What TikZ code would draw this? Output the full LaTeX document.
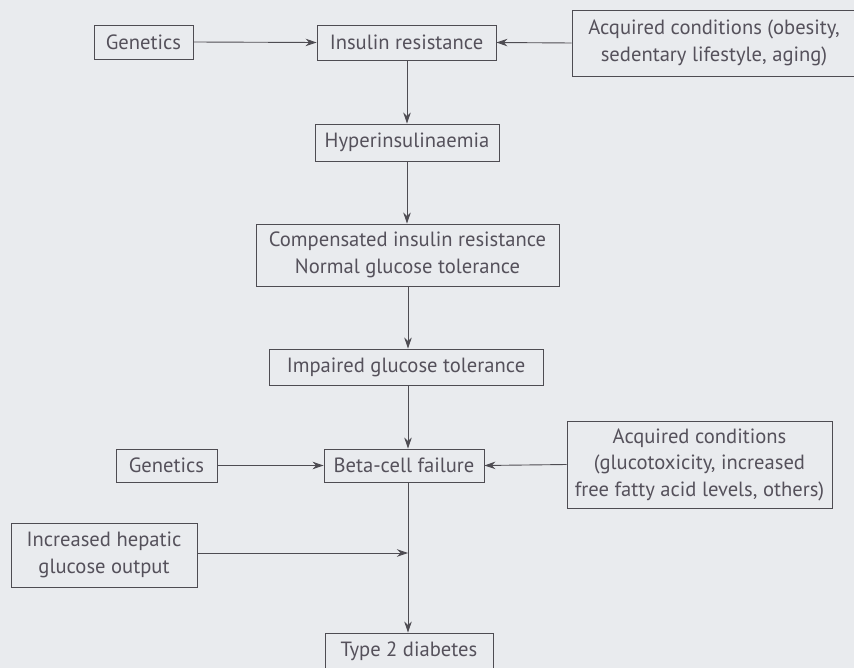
\documentclass[tikz,border=0pt]{standalone}
\usepackage{fontspec}
\setmainfont{PT Sans}
\usetikzlibrary{arrows.meta}
\definecolor{bg}{HTML}{E9EBEE}
\definecolor{ink}{HTML}{55515B}
\definecolor{ln}{HTML}{4E4C52}
\tikzset{
  box/.style={draw=ln, line width=0.9pt, fill=bg, text=ink, align=center, inner sep=0pt,
    font=\fontsize{20.6}{26.5}\selectfont},
  arr/.style={draw=ln, line width=0.9pt, -{Stealth[length=11pt,width=7.5pt]}}
}
\begin{document}
\begin{tikzpicture}[x=1pt,y=-1pt]
\fill[bg] (0,0) rectangle (854,668);
\useasboundingbox (0,0) rectangle (854,668);
\node[box, minimum width=99, minimum height=34] (g1) at (143.5,42) {Genetics};
\node[box, minimum width=179, minimum height=35] (ir) at (406.5,42.5) {Insulin resistance};
\node[box, minimum width=284, minimum height=66] (ac1) at (714,43) {Acquired conditions (obesity,\\sedentary lifestyle, aging)};
\node[box, minimum width=184, minimum height=37] (hyp) at (407,142.5) {Hyperinsulinaemia};
\node[box, minimum width=303, minimum height=62] (comp) at (407.5,255) {Compensated insulin resistance\\Normal glucose tolerance};
\node[box, minimum width=274, minimum height=36] (imp) at (406,367) {Impaired glucose tolerance};
\node[box, minimum width=101, minimum height=33] (g2) at (166.5,465.5) {Genetics};
\node[box, minimum width=160, minimum height=33] (bc) at (404,465.5) {Beta-cell failure};
\node[box, minimum width=265, minimum height=87] (ac2) at (699.5,464.5) {Acquired conditions\\(glucotoxicity, increased\\free fatty acid levels, others)};
\node[box, minimum width=186, minimum height=64] (hep) at (104,555) {Increased hepatic\\glucose output};
\node[box, minimum width=168, minimum height=36] (t2) at (409,651) {Type 2 diabetes};
\coordinate (j) at (408,553);
\draw[arr] (g1.east) -- (ir.west);
\draw[arr] (ac1.west) -- (ir.east);
\draw[arr] (ir.south -| 407,0) -- (hyp.north -| 407,0);
\draw[arr] (hyp.south -| 407,0) -- (comp.north -| 407,0);
\draw[arr] (comp.south -| 408,0) -- (imp.north -| 408,0);
\draw[arr] (imp.south -| 408,0) -- (bc.north -| 408,0);
\draw[arr] (g2.east) -- (bc.west);
\draw[arr] (ac2.west) -- (bc.east);
\draw[arr] (hep.east |- j) -- (j);
\draw[arr] (bc.south -| 408,0) -- (t2.north -| 408,0);
\end{tikzpicture}
\end{document}
